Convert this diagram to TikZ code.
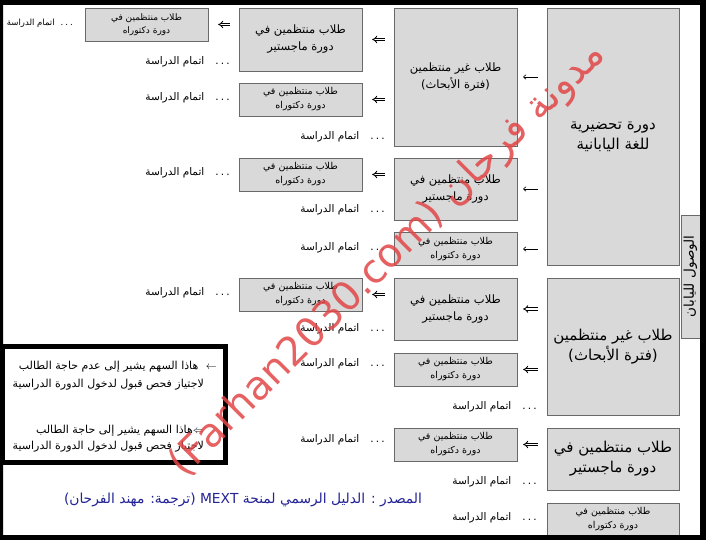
\documentclass[tikz,border=0pt]{standalone}
\usepackage{fontspec}
\usetikzlibrary{arrows.meta}
\TeXXeTstate=1
\newfontfamily\arabicfont[Script=Arabic]{DejaVu Sans}
\definecolor{boxfill}{RGB}{217,217,217}
\definecolor{boxline}{RGB}{105,105,105}
\definecolor{srcblue}{RGB}{35,35,150}
\definecolor{markred}{RGB}{226,70,70}
\newcommand{\artxt}[1]{\beginR #1\endR}
\newcommand{\donetxt}{\artxt{.\hspace{2.2pt}.\hspace{2.2pt}.\hspace{11pt}اتمام الدراسة}}

\begin{document}
\begin{tikzpicture}[x=1pt, y=-1pt, font=\arabicfont,
    box/.style={draw=boxline, fill=boxfill, inner sep=0pt, align=center},
    bigbox/.style={box, minimum width=132pt, font=\arabicfont\fontsize{15}{20}\selectfont},
    midbox/.style={box, minimum width=123pt, font=\arabicfont\fontsize{11.5}{17}\selectfont},
    docbox/.style={box, minimum width=123pt, minimum height=33pt, font=\arabicfont\fontsize{9.5}{14}\selectfont},
    done/.style={anchor=east, inner sep=0pt, font=\arabicfont\fontsize{10.5}{13}\selectfont},
    legtxt/.style={anchor=east, inner sep=0pt, font=\arabicfont\fontsize{11}{13}\selectfont},
    one/.style={-{To[length=3pt, width=5pt]}, line width=0.6pt},
    two/.style={double, double distance=1.6pt, line width=0.85pt, -{Implies}},
    gapA/.style={shorten <=9pt, shorten >=6pt},
    gapB/.style={shorten <=9pt, shorten >=10pt}]
  \fill[white] (0,0) rectangle (706,540);
  \useasboundingbox (0,0) rectangle (706,540);

  % first column: the way in
  \node[bigbox, minimum height=257pt] (prep) at (613,136.5) {\artxt{دورة تحضيرية}\\\artxt{للغة اليابانية}};
  \node[bigbox, minimum height=137pt] (irregA) at (613,346.5) {\artxt{طلاب غير منتظمين}\\\artxt{(فترة الأبحاث)}};
  \node[bigbox, minimum height=62pt] (mastA) at (613,459) {\artxt{طلاب منتظمين في}\\\artxt{دورة ماجستير}};
  \node[docbox, minimum width=132pt] (docA) at (613,519.5) {\artxt{طلاب منتظمين في}\\\artxt{دورة دكتوراه}};
  \node[box, rotate=90, minimum width=123pt, minimum height=19pt, font=\arabicfont\fontsize{13.5}{14}\selectfont] (arrive) at (690.5,276.5) {\artxt{الوصول لليابان}};

  % second column
  \node[midbox, minimum height=138pt] (irregB) at (455.5,77) {\artxt{طلاب غير منتظمين}\\\artxt{(فترة الأبحاث)}};
  \node[midbox, minimum height=62pt] (mastB1) at (455.5,189) {\artxt{طلاب منتظمين في}\\\artxt{دورة ماجستير}};
  \node[docbox] (docB1) at (455.5,249) {\artxt{طلاب منتظمين في}\\\artxt{دورة دكتوراه}};
  \node[midbox, minimum height=62pt] (mastB2) at (455.5,309) {\artxt{طلاب منتظمين في}\\\artxt{دورة ماجستير}};
  \node[docbox] (docB2) at (455.5,369.5) {\artxt{طلاب منتظمين في}\\\artxt{دورة دكتوراه}};
  \node[docbox] (docB3) at (455.5,444.5) {\artxt{طلاب منتظمين في}\\\artxt{دورة دكتوراه}};

  % third column
  \node[midbox, minimum height=63pt] (mastC) at (300.5,39.5) {\artxt{طلاب منتظمين في}\\\artxt{دورة ماجستير}};
  \node[docbox] (docC1) at (300.5,99.5) {\artxt{طلاب منتظمين في}\\\artxt{دورة دكتوراه}};
  \node[docbox] (docC2) at (300.5,174.5) {\artxt{طلاب منتظمين في}\\\artxt{دورة دكتوراه}};
  \node[docbox] (docC3) at (300.5,294.5) {\artxt{طلاب منتظمين في}\\\artxt{دورة دكتوراه}};

  % fourth column
  \node[docbox, font=\arabicfont\fontsize{9}{13}\selectfont] (docD) at (146.5,24.5) {\artxt{طلاب منتظمين في}\\\artxt{دورة دكتوراه}};

  % arrows
  \draw[one, gapA] (prep.west |- irregB) -- (irregB.east);
  \draw[one, gapA] (prep.west |- mastB1) -- (mastB1.east);
  \draw[one, gapA] (prep.west |- docB1) -- (docB1.east);
  \draw[two, gapA] (irregA.west |- mastB2) -- (mastB2.east);
  \draw[two, gapA] (irregA.west |- docB2) -- (docB2.east);
  \draw[two, gapA] (mastA.west |- docB3) -- (docB3.east);
  \draw[two, gapB] (irregB.west |- mastC) -- (mastC.east);
  \draw[two, gapB] (irregB.west |- docC1) -- (docC1.east);
  \draw[two, gapB] (mastB1.west |- docC2) -- (docC2.east);
  \draw[two, gapB] (mastB2.west |- docC3) -- (docC3.east);
  \draw[two, gapB] (mastC.west |- docD) -- (docD.east);

  % end of study
  \node[done, font=\arabicfont\fontsize{8.5}{10}\selectfont] (endD) at (73,23) {\artxt{.\hspace{2pt}.\hspace{2pt}.\hspace{6pt}اتمام الدراسة}};
  \node[done] (endC0) at (230,62) {\donetxt};
  \node[done] (endC1) at (230,98) {\donetxt};
  \node[done] (endC2) at (230,173) {\donetxt};
  \node[done] (endC3) at (230,293) {\donetxt};
  \node[done] (endB0) at (385,137) {\donetxt};
  \node[done] (endB1) at (385,210) {\donetxt};
  \node[done] (endB2) at (385,248) {\donetxt};
  \node[done] (endB3) at (385,329) {\donetxt};
  \node[done] (endB4) at (385,364) {\donetxt};
  \node[done] (endB5) at (385,440) {\donetxt};
  \node[done] (endA1) at (537,407) {\donetxt};
  \node[done] (endA2) at (537,482) {\donetxt};
  \node[done] (endA3) at (537,518) {\donetxt};

  % key
  \node[draw, line width=5pt, minimum width=223pt, minimum height=116pt, inner sep=0pt] (key) at (114,404.5) {};
  \node[legtxt] (keyA) at (217,367) {\artxt{$\leftarrow$\hspace{4pt} هاذا السهم يشير إلى عدم حاجة الطالب}};
  \node[legtxt] (keyB) at (204,385) {\artxt{لاجتياز فحص قبول لدخول الدورة الدراسية}};
  \node[legtxt] (keyC) at (204,431) {\artxt{$\Leftarrow$هاذا السهم يشير إلى حاجة الطالب}};
  \node[legtxt] (keyD) at (204,447) {\artxt{لاجتياز فحص قبول لدخول الدورة الدراسية}};

  \node[text=srcblue, font=\arabicfont\fontsize{13.8}{15}\selectfont] (source) at (243,500) {\artxt{المصدر : الدليل الرسمي لمنحة MEXT (ترجمة: مهند الفرحان)}};

  % frame
  \fill[even odd rule] (0,0) rectangle (706,540) (3,5) rectangle (700,535);

  % watermark
  \node[rotate=45, text=markred, opacity=0.85, font=\arabicfont\fontsize{40}{40}\selectfont] (mark) at (388,260) {\artxt{مدونة فرحان \beginL(Farhan2030.com)\endL}};
\end{tikzpicture}
\end{document}
